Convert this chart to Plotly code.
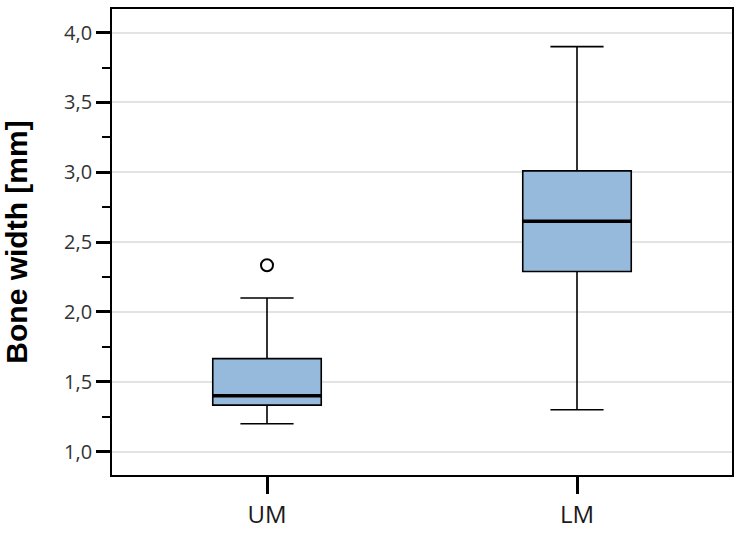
import plotly.graph_objects as go

categories = ["UM", "LM"]
lower_whisker = [1.20, 1.30]
q1_values = [1.333, 2.29]
medians = [1.40, 2.65]
q3_values = [1.666, 3.01]
upper_whisker = [2.10, 3.90]
outlier_cats = ["UM"]
outlier_values = [2.335]
y_tick_vals = [1.0, 1.5, 2.0, 2.5, 3.0, 3.5, 4.0]

fig = go.Figure()
fig.add_trace(go.Box(
    x=categories, q1=q1_values, median=medians, q3=q3_values,
    lowerfence=lower_whisker, upperfence=upper_whisker,
    width=0.35, whiskerwidth=0.49,
    fillcolor="#96BADC", line=dict(color="black", width=1.6),
    boxpoints=False, showlegend=False, hoverinfo="skip",
))
# thicker median line
fig.add_trace(go.Box(
    x=categories, q1=medians, median=medians, q3=medians,
    lowerfence=medians, upperfence=medians,
    width=0.35, whiskerwidth=0,
    fillcolor="rgba(0,0,0,0)", line=dict(color="black", width=3.5),
    boxpoints=False, showlegend=False, hoverinfo="skip",
))
fig.add_trace(go.Scatter(
    x=outlier_cats, y=outlier_values, mode="markers",
    marker=dict(symbol="circle-open", size=12, color="black", line=dict(width=2)),
    showlegend=False, hoverinfo="skip",
))

fig.update_layout(
    width=741, height=537,
    margin=dict(l=112, r=8, t=7, b=56),
    paper_bgcolor="white", plot_bgcolor="white",
    separators=", ",
    boxmode="overlay",
    font=dict(family="Open Sans, Noto Sans, sans-serif", color="#222222"),
)
fig.update_xaxes(
    type="category", range=[-0.5, 1.5],
    showline=True, linecolor="black", linewidth=1.8, mirror=True,
    ticks="outside", ticklen=17, tickwidth=2.5, tickcolor="black",
    tickfont=dict(size=24, family="Open Sans, Noto Sans, sans-serif", color="#1a1a1a"),
    showgrid=False, zeroline=False,
)
fig.update_yaxes(
    range=[0.833, 4.169],
    tickvals=y_tick_vals, tickformat=".1f",
    showline=True, linecolor="black", linewidth=1.8, mirror=True,
    ticks="outside", ticklen=14, tickwidth=2.5, tickcolor="black",
    tickfont=dict(size=20, color="#333333"),
    showgrid=True, gridcolor="#E3E3E3", gridwidth=2,
    zeroline=False,
    minor=dict(dtick=0.25, tick0=0, ticks="outside", ticklen=8, tickwidth=2, tickcolor="black", showgrid=False),
    title=dict(text="<b>Bone width [mm]</b>",
               font=dict(size=30, color="black", family="Liberation Sans, Arial, sans-serif"),
               standoff=30),
)

fig.write_html(
    "out.html",
    config={"displayModeBar": False},
    post_script="document.body.style.margin='0';document.body.style.overflow='hidden';document.documentElement.style.overflow='hidden';",
)
